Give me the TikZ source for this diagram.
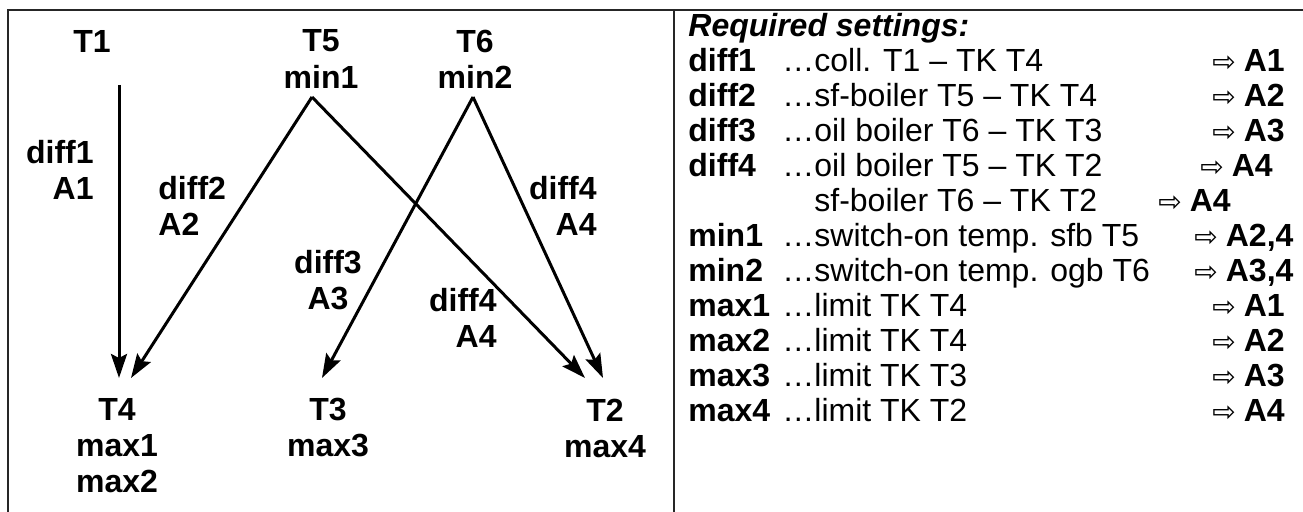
\documentclass[tikz,border=0pt]{standalone}
\usepackage{fontspec}
\setmainfont{Liberation Sans}
\newfontfamily\arrowfont{DejaVu Sans}
\usetikzlibrary{arrows.meta}
\usetikzlibrary{positioning}
\newcommand{\outarrow}[1]{{\arrowfont\fontsize{14}{14}\selectfont ⇨}\kern4pt\textbf{#1}}

\begin{document}
\begin{tikzpicture}[x=0.5pt, y=-0.5pt,
    sensor/.style={font=\bfseries\fontsize{16}{18}\selectfont, align=center, inner sep=0pt},
    flow/.style={line width=1.5pt, -{Stealth[length=12pt, width=8pt, inset=2pt]}},
    frame/.style={line width=1pt, draw=black!85},
    rowkey/.style={font=\bfseries\fontsize{16}{17}\selectfont, anchor=base west, inner sep=0pt},
    rowtext/.style={font=\fontsize{16}{17}\selectfont, anchor=base west, inner sep=0pt}]
    \useasboundingbox (0,0) rectangle (1303,512);
    % frame and divider
    \draw[frame] (8,512) -- (8,10) -- (1303,10);
    \draw[frame] (674,10) -- (674,512);

    % sensors
    \node[sensor] (t1) at (92,42) {T1};
    \node[sensor] (t5) at (321,59) {T5\\min1};
    \node[sensor] (t6) at (475,59) {T6\\min2};
    \node[sensor] (t4) at (117,446) {T4\\max1\\max2};
    \node[sensor] (t3) at (328,428) {T3\\max3};
    \node[sensor] (t2) at (605,428) {T2\\max4};

    % differences
    \node[sensor, align=right, anchor=east] (d1) at (94,170) {diff1\\A1};
    \node[sensor, align=left, anchor=west] (d2) at (158,206) {diff2\\A2};
    \node[sensor] (d3) at (328,280) {diff3\\A3};
    \node[sensor, align=right, anchor=east] (d4a) at (597,206) {diff4\\A4};
    \node[sensor, align=right, anchor=east] (d4b) at (497,318) {diff4\\A4};

    \coordinate (t1out) at (119,85);
    \coordinate (t5out) at (312,97);
    \coordinate (t6out) at (473,97);
    \coordinate (t4inA) at (119,378);
    \coordinate (t4inB) at (131,378);
    \coordinate (t3in) at (322,378);
    \coordinate (t2inA) at (585,378);
    \coordinate (t2inB) at (603,378);
    \draw[flow] (t1out) -- (t4inA);
    \draw[flow] (t5out) -- (t4inB);
    \draw[flow] (t5out) -- (t2inA);
    \draw[flow] (t6out) -- (t3in);
    \draw[flow] (t6out) -- (t2inB);

    % required settings
    \node[rowtext, font=\bfseries\itshape\fontsize{16}{17}\selectfont] (req) at (688,37) {Required settings:};
    \node[rowkey] (kd1) at (688,72) {diff1};
    \node[rowtext] (sd1) at (782,72) {…coll. T1 – TK T4};
    \node[rowtext] (od1) at (1212,72) {\outarrow{A1}};
    \node[rowkey] (kd2) at (688,107) {diff2};
    \node[rowtext] (sd2) at (782,107) {…sf-boiler T5 – TK T4};
    \node[rowtext] (od2) at (1212,107) {\outarrow{A2}};
    \node[rowkey] (kd3) at (688,142) {diff3};
    \node[rowtext] (sd3) at (782,142) {…oil boiler T6 – TK T3};
    \node[rowtext] (od3) at (1212,142) {\outarrow{A3}};
    \node[rowkey] (kd4) at (688,177) {diff4};
    \node[rowtext] (sd4) at (782,177) {…oil boiler T5 – TK T2};
    \node[rowtext] (od4) at (1200,177) {\outarrow{A4}};
    \node[rowtext] (sd4b) at (782,212) {\phantom{…}sf-boiler T6 – TK T2};
    \node[rowtext] (od4b) at (1158,212) {\outarrow{A4}};
    \node[rowkey] (kn1) at (688,247) {min1};
    \node[rowtext] (sn1) at (782,247) {…switch-on temp. sfb T5};
    \node[rowtext] (on1) at (1194,247) {\outarrow{A2,4}};
    \node[rowkey] (kn2) at (688,282) {min2};
    \node[rowtext] (sn2) at (782,282) {…switch-on temp. ogb T6};
    \node[rowtext] (on2) at (1194,282) {\outarrow{A3,4}};
    \node[rowkey] (kx1) at (688,317) {max1};
    \node[rowtext] (sx1) at (782,317) {…limit TK T4};
    \node[rowtext] (ox1) at (1212,317) {\outarrow{A1}};
    \node[rowkey] (kx2) at (688,352) {max2};
    \node[rowtext] (sx2) at (782,352) {…limit TK T4};
    \node[rowtext] (ox2) at (1212,352) {\outarrow{A2}};
    \node[rowkey] (kx3) at (688,387) {max3};
    \node[rowtext] (sx3) at (782,387) {…limit TK T3};
    \node[rowtext] (ox3) at (1212,387) {\outarrow{A3}};
    \node[rowkey] (kx4) at (688,422) {max4};
    \node[rowtext] (sx4) at (782,422) {…limit TK T2};
    \node[rowtext] (ox4) at (1212,422) {\outarrow{A4}};
\end{tikzpicture}
\end{document}
